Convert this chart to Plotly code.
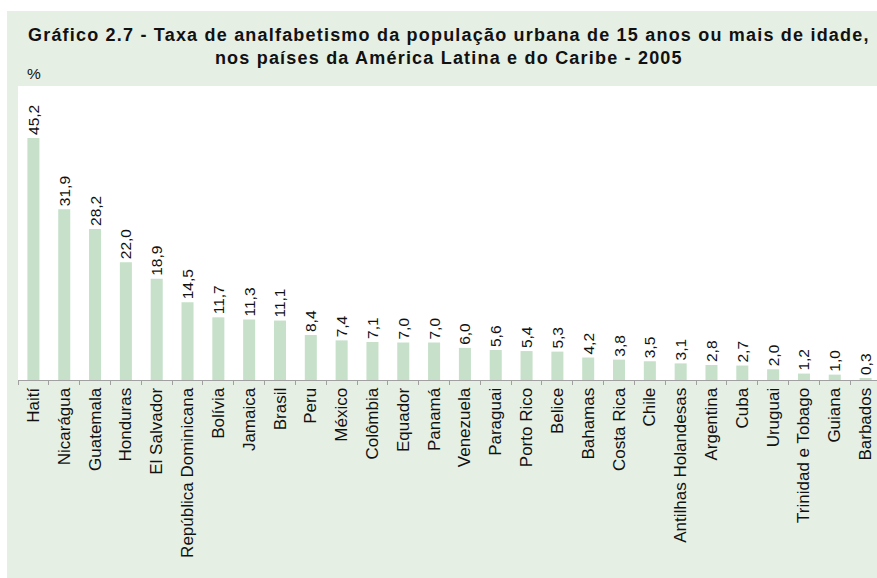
import plotly.graph_objects as go

# Taxa de analfabetismo da população urbana de 15 anos ou mais (%), 2005
paises = [
    "Haití", "Nicarágua", "Guatemala", "Honduras", "El Salvador",
    "República Dominicana", "Bolívia", "Jamaica", "Brasil", "Peru",
    "México", "Colômbia", "Equador", "Panamá", "Venezuela", "Paraguai",
    "Porto Rico", "Belice", "Bahamas", "Costa Rica", "Chile",
    "Antilhas Holandesas", "Argentina", "Cuba", "Uruguai",
    "Trinidad e Tobago", "Guiana", "Barbados",
]
taxas = [
    45.2, 31.9, 28.2, 22.0, 18.9, 14.5, 11.7, 11.3, 11.1, 8.4,
    7.4, 7.1, 7.0, 7.0, 6.0, 5.6, 5.4, 5.3, 4.2, 3.8, 3.5,
    3.1, 2.8, 2.7, 2.0, 1.2, 1.0, 0.3,
]

titulo_l1 = "Gráfico 2.7 - Taxa de analfabetismo da população urbana de 15 anos ou mais de idade,"
titulo_l2 = "nos países da América Latina e do Caribe - 2005"
titulo = ('<span style="letter-spacing:1.2px"><b>' + titulo_l1 + "<br>" + titulo_l2 + "</b></span>")

W, H = 877, 578
L, R, T, B = 18, 0, 86, 198
pw, ph = W - L - R, H - T - B

def px_x(x):
    return (x - L) / pw

def px_y(y):
    return (H - B - y) / ph

FONT = "Liberation Sans, Arial, sans-serif"
VERDE_FUNDO = "#e5efe4"
VERDE_BARRA = "#c6e0c9"

fig = go.Figure(
    go.Bar(
        x=paises,
        y=taxas,
        marker=dict(color=VERDE_BARRA, line=dict(width=0)),
        texttemplate="%{y:.1f}",
        textposition="outside",
        textangle=-90,
        constraintext="none",
        cliponaxis=False,
        textfont=dict(family=FONT, size=15.5, color="#111111"),
        hoverinfo="x+y",
    )
)

fig.update_layout(
    width=W,
    height=H,
    margin=dict(l=L, r=R, t=T, b=B, pad=0),
    paper_bgcolor="white",
    plot_bgcolor="rgba(0,0,0,0)",
    separators=",.",
    bargap=0.61,
    showlegend=False,
    font=dict(family=FONT, color="#111111"),
    shapes=[
        # painel verde ao fundo
        dict(type="rect", xref="paper", yref="paper",
             x0=px_x(7), x1=px_x(900), y0=px_y(600), y1=px_y(11),
             fillcolor=VERDE_FUNDO, line=dict(width=0), layer="below"),
        # área branca do gráfico
        dict(type="rect", xref="paper", yref="paper",
             x0=0, x1=px_x(900), y0=0, y1=1,
             fillcolor="white", line=dict(width=0), layer="below"),
    ],
    annotations=[
        dict(text=titulo, xref="paper", yref="paper",
             x=px_x(449), y=px_y(47), xanchor="center", yanchor="middle",
             showarrow=False, align="center",
             font=dict(family=FONT, size=18, color="#111111")),
        dict(text="%", xref="paper", yref="paper",
             x=px_x(25), y=px_y(74), xanchor="left", yanchor="middle",
             showarrow=False, font=dict(family=FONT, size=15.5, color="#111111")),
    ],
)

fig.update_xaxes(
    type="category",
    range=[-0.5, 27.37],
    tickangle=-90,
    tickson="boundaries",
    ticks="outside",
    ticklen=4,
    tickcolor="#a0a0a0",
    showline=True,
    linecolor="#a0a0a0",
    linewidth=1,
    showgrid=False,
    tickfont=dict(family=FONT, size=17, color="#111111"),
)
fig.update_yaxes(
    range=[0, 54.9],
    showticklabels=False,
    showgrid=False,
    zeroline=False,
    showline=False,
    ticks="",
)

fig.write_html("out.html")
